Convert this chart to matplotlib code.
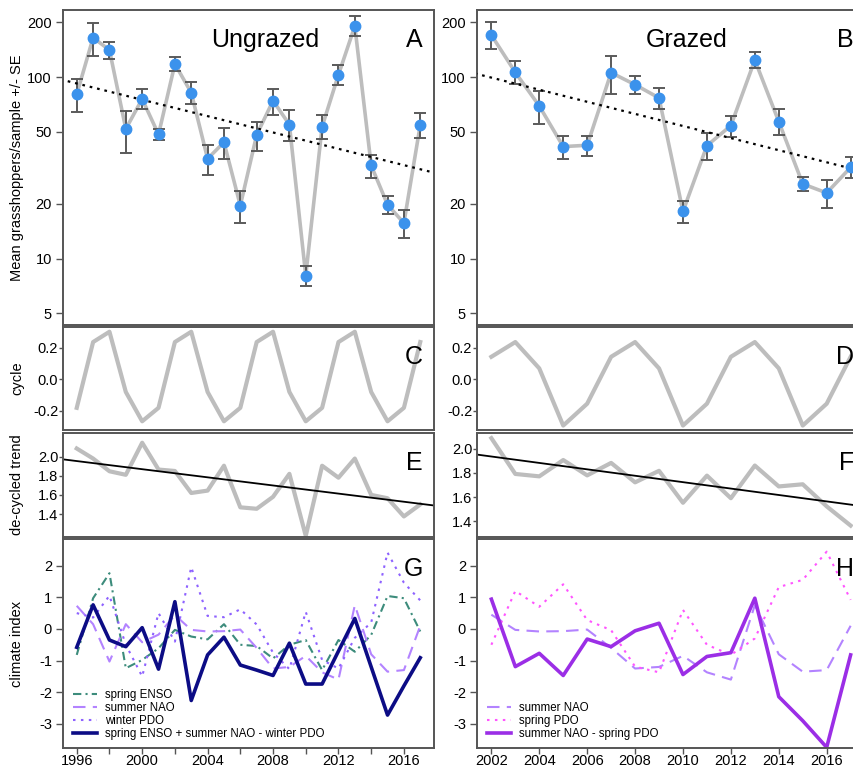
import numpy as np
import matplotlib
matplotlib.use("Agg")
import matplotlib.pyplot as plt
from matplotlib.ticker import FixedLocator, NullLocator

plt.rcParams["font.family"] = ["Liberation Sans", "DejaVu Sans"]
plt.rcParams["axes.unicode_minus"] = False

# ---------------------------------------------------------------------------
# Data
# ---------------------------------------------------------------------------
years_u = list(range(1996, 2018))
years_g = list(range(2002, 2018))

# grasshopper counts, mean and +/- SE bounds
ungrazed_mean = [80.3, 164.7, 140.9, 51.8, 75.7, 48.3, 118.0, 82.0, 35.5, 43.7, 19.6,
                 48.0, 74.1, 54.7, 8.07, 53.3, 103.0, 190.8, 32.6, 19.8, 15.7, 54.4]
ungrazed_hi = [97.5, 197.5, 156.0, 65.3, 86.3, 51.5, 128.8, 94.3, 42.4, 52.6, 23.5,
               56.5, 86.3, 65.6, 9.08, 61.5, 116.4, 216.6, 37.2, 22.1, 18.5, 63.1]
ungrazed_lo = [63.9, 131.0, 125.0, 38.4, 66.4, 45.0, 108.0, 70.8, 28.7, 35.2, 15.8,
               39.2, 61.8, 44.3, 7.1, 45.4, 90.4, 168.0, 27.9, 17.5, 13.0, 46.0]

grazed_mean = [170.3, 106.1, 69.3, 41.4, 42.1, 105.7, 90.8, 76.7, 18.2, 41.9, 54.0,
               124.1, 56.8, 25.8, 23.0, 31.8]
grazed_hi = [200.0, 122.5, 84.1, 47.3, 47.5, 130.0, 101.7, 86.7, 20.7, 49.4, 61.3,
             136.7, 66.7, 28.2, 27.1, 36.1]
grazed_lo = [142.0, 91.2, 55.1, 35.4, 36.6, 81.0, 80.3, 67.0, 15.7, 34.9, 46.8,
             112.0, 47.7, 23.5, 19.0, 27.9]

# fitted trends, endpoints (year, value)
trend_a = ([1995, 2018], [97.1, 29.5])
trend_b = ([2001, 2018], [107.2, 29.1])
trend_e = ([1995, 2018], [1.975, 1.486])
trend_f = ([2001, 2018], [1.964, 1.510])

# cyclic component
cycle_u = [-0.18, 0.235, 0.30, -0.08, -0.265, -0.18, 0.235, 0.30, -0.08, -0.265, -0.18,
           0.235, 0.30, -0.08, -0.265, -0.18, 0.235, 0.30, -0.08, -0.265, -0.18, 0.235]
cycle_g = [0.142, 0.235, 0.069, -0.292, -0.154, 0.142, 0.235, 0.069, -0.292, -0.154,
           0.142, 0.235, 0.069, -0.292, -0.154, 0.142]

# de-cycled trend
decyc_u = [2.085, 1.98, 1.847, 1.81, 2.145, 1.865, 1.85, 1.62, 1.645, 1.905, 1.47,
           1.455, 1.58, 1.82, 1.172, 1.905, 1.78, 1.98, 1.60, 1.565, 1.375, 1.50]
decyc_g = [2.09, 1.792, 1.772, 1.908, 1.780, 1.884, 1.722, 1.818, 1.552, 1.778,
           1.590, 1.862, 1.688, 1.706, 1.522, 1.362]

# climate indices
spring_enso = [-0.82, 0.97, 1.76, -1.24, -0.98, -0.61, -0.03, -0.24, -0.33, 0.15, -0.5,
               -0.54, -0.93, -0.5, -0.35, -1.3, -0.35, -0.72, -0.19, 1.04, 0.97, -0.08]
summer_nao_u = [0.73, 0.15, -1.03, 0.15, -0.42, -0.18, 0.44, -0.03, -0.08, -0.07, -0.02,
                -0.6, -1.25, -1.2, -0.85, -1.37, -1.6, 0.75, -0.8, -1.35, -1.3, 0.1]
winter_pdo = [0.5, 0.36, 1.05, -0.5, -1.5, 0.5, -0.4, 1.95, 0.41, 0.37, 0.62,
              0.14, -0.75, -1.27, 0.54, -0.98, -1.25, -0.28, 0.2, 2.41, 1.46, 0.9]
combo_u = [-0.58, 0.76, -0.35, -0.56, 0.04, -1.27, 0.86, -2.26, -0.82, -0.26, -1.14,
           -1.3, -1.47, -0.45, -1.74, -1.74, -0.7, 0.33, -1.2, -2.72, -1.8, -0.91]

summer_nao_g = [0.45, -0.03, -0.08, -0.07, -0.02, -0.6, -1.25, -1.2, -0.85, -1.37,
                -1.6, 0.75, -0.8, -1.35, -1.3, 0.1]
spring_pdo = [-0.5, 1.2, 0.7, 1.41, 0.28, -0.04, -1.19, -1.37, 0.6, -0.5, -0.82,
              -0.3, 1.32, 1.55, 2.44, 0.92]
combo_g = [0.94, -1.19, -0.77, -1.47, -0.32, -0.56, -0.06, 0.18, -1.44, -0.87, -0.75,
           0.97, -2.14, -2.9, -3.74, -0.82]

# ---------------------------------------------------------------------------
# Style
# ---------------------------------------------------------------------------
W, H = 854, 771
BOX = "#555555"
GREY = "#bdbdbd"
BLUE = "#3b92ec"
TICK_FS = 10.5
LAB_FS = 10.5
BIG_FS = 18

fig = plt.figure(figsize=(W / 100, H / 100), dpi=100)


def px_axes(x0, y0, x1, y1):
    return fig.add_axes([x0 / W, 1 - y1 / H, (x1 - x0) / W, (y1 - y0) / H])


def style(ax, tick_len=5, tick_pad=3):
    for s in ax.spines.values():
        s.set_edgecolor(BOX)
        s.set_linewidth(1.4)
    ax.tick_params(axis="y", direction="out", length=tick_len, width=1.0, color=BOX,
                   labelsize=TICK_FS, pad=tick_pad)
    ax.tick_params(axis="x", direction="out", length=4, width=1.0, color=BOX,
                   labelsize=TICK_FS, pad=0.5)


def letter(ax, txt):
    ax.text(1 - 11 / ax.bbox.width, 1 - 30 / ax.bbox.height, txt, transform=ax.transAxes,
            ha="right", va="center", fontsize=BIG_FS, color="black")


rows = [(10, 325), (327, 430), (433, 537), (539, 748)]
cols = [(63, 434), (477, 865)]
xlims = [(1995.16, 2017.84), (2001.4, 2017.6)]

axes = [[px_axes(c[0], r[0], c[1], r[1]) for c in cols] for r in rows]
for i, row in enumerate(axes):
    for j, ax in enumerate(row):
        if i in (1, 2):
            style(ax, tick_len=3, tick_pad=0.5)
        else:
            style(ax)
        ax.set_xlim(*xlims[j])

# --- top row: counts ---
title_x = [265, 687]
for j, (yrs, m, lo, hi, tr, title, let) in enumerate([
        (years_u, ungrazed_mean, ungrazed_lo, ungrazed_hi, trend_a, "Ungrazed", "A"),
        (years_g, grazed_mean, grazed_lo, grazed_hi, trend_b, "Grazed", "B")]):
    ax = axes[0][j]
    ax.set_yscale("log")
    ax.set_ylim(4.31, 234)
    ax.yaxis.set_major_locator(FixedLocator([5, 10, 20, 50, 100, 200]))
    ax.yaxis.set_minor_locator(NullLocator())
    ax.set_yticklabels(["5", "10", "20", "50", "100", "200"])
    m = np.array(m)
    yerr = [m - np.array(lo), np.array(hi) - m]
    ax.plot(yrs, m, color=GREY, lw=2.6, zorder=1)
    ax.errorbar(yrs, m, yerr=yerr, fmt="none", ecolor="#5a5a5a", elinewidth=1.4,
                capsize=4.5, capthick=1.4, zorder=2)
    ax.plot(tr[0], tr[1], color="black", lw=1.6, ls=(0, (1.2, 2.2)), zorder=3)
    ax.plot(yrs, m, "o", color=BLUE, ms=7.5, mec=BLUE, zorder=4)
    ax.text((title_x[j] - cols[j][0]) / ax.bbox.width, 1 - 30 / ax.bbox.height, title,
            transform=ax.transAxes, ha="center", va="center", fontsize=BIG_FS)
    letter(ax, let)
axes[0][0].set_ylabel("Mean grasshoppers/sample +/- SE", fontsize=LAB_FS)

# --- cycle ---
for j, (yrs, c, let) in enumerate([(years_u, cycle_u, "C"), (years_g, cycle_g, "D")]):
    ax = axes[1][j]
    ax.plot(yrs, c, color=GREY, lw=3)
    ax.set_ylim(-0.32, 0.33)
    ax.set_yticks([-0.2, 0.0, 0.2])
    ax.set_yticklabels(["-0.2", "0.0", "0.2"])
    letter(ax, let)
axes[1][0].set_ylabel("cycle", fontsize=LAB_FS)

# --- de-cycled trend ---
for j, (yrs, d, tr, lim, let) in enumerate([
        (years_u, decyc_u, trend_e, (1.16, 2.247), "E"),
        (years_g, decyc_g, trend_f, (1.267, 2.133), "F")]):
    ax = axes[2][j]
    ax.plot(yrs, d, color=GREY, lw=3)
    ax.plot(tr[0], tr[1], color="black", lw=1.3)
    ax.set_ylim(*lim)
    ax.set_yticks([1.4, 1.6, 1.8, 2.0])
    ax.set_yticklabels(["1.4", "1.6", "1.8", "2.0"])
    letter(ax, let)
axes[2][0].set_ylabel("de-cycled trend", fontsize=LAB_FS)

# --- climate indices ---
axg = axes[3][0]
axg.plot(years_u, spring_enso, color="#3d8c7c", lw=1.5, ls=(0, (4, 2, 1, 2)),
         label="spring ENSO")
axg.plot(years_u, summer_nao_u, color="#b383ff", lw=1.5, ls=(0, (6, 3.5)),
         label="summer NAO")
axg.plot(years_u, winter_pdo, color="#8e62ff", lw=1.5, ls=(0, (1.2, 2.6)),
         label="winter PDO")
axg.plot(years_u, combo_u, color="#0c0c85", lw=2.6,
         label="spring ENSO + summer NAO - winter PDO")
axg.set_xticks(list(range(1996, 2018, 2)))
axg.set_xticklabels([str(y) if (y - 1996) % 4 == 0 else "" for y in range(1996, 2018, 2)])

axh = axes[3][1]
axh.plot(years_g, summer_nao_g, color="#b383ff", lw=1.5, ls=(0, (6, 3.5)),
         label="summer NAO")
axh.plot(years_g, spring_pdo, color="#ff55ff", lw=1.5, ls=(0, (1.2, 2.6)),
         label="spring PDO")
axh.plot(years_g, combo_g, color="#9b2ee6", lw=2.6, label="summer NAO - spring PDO")
axh.set_xticks(list(range(2002, 2018, 2)))
axh.set_xticklabels([str(y) for y in range(2002, 2018, 2)])

for ax, let in [(axg, "G"), (axh, "H")]:
    ax.set_ylim(-3.76, 2.84)
    ax.set_yticks([-3, -2, -1, 0, 1, 2])
    ax.set_yticklabels(["-3", "-2", "-1", "0", "1", "2"])
    letter(ax, let)
    ax.legend(loc="lower left", bbox_to_anchor=(10 / ax.bbox.width, 8 / ax.bbox.height),
              frameon=False, fontsize=8.3, handlelength=2.1, handletextpad=0.7,
              labelspacing=0.1, borderpad=0, borderaxespad=0)
axg.set_ylabel("climate index", fontsize=LAB_FS)

# no x tick labels on upper rows
for row in axes[:3]:
    for ax in row:
        ax.tick_params(axis="x", bottom=False, labelbottom=False)

# align y labels
for row in axes:
    row[0].yaxis.set_label_coords(-39 / row[0].bbox.width, 0.5)

fig.savefig("out.png", dpi=100)
